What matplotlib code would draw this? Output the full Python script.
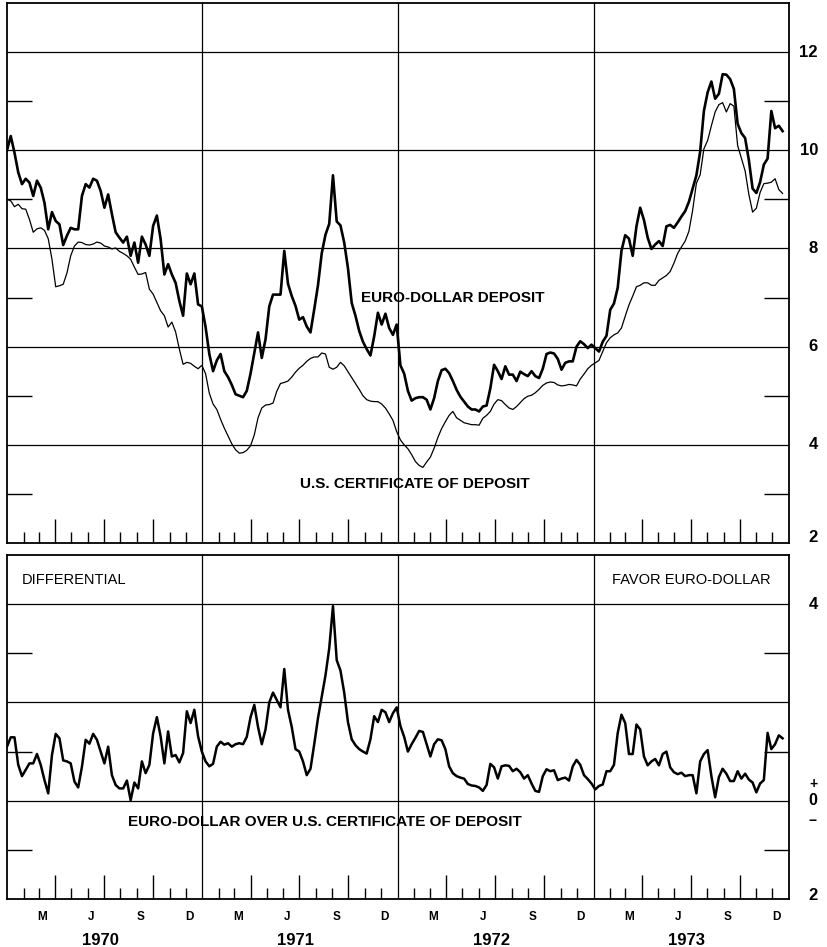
import numpy as np
import pandas as pd
import matplotlib
matplotlib.use('Agg')
import matplotlib.pyplot as plt
import matplotlib.dates as mdates

plt.rcParams['font.family'] = ['Liberation Sans', 'DejaVu Sans']

# Weekly observations starting 1 Jan 1970
euro_dollar = [
    10.0, 10.29, 9.95, 9.55, 9.31, 9.42, 9.34, 9.07, 9.38, 9.24, 8.93, 8.39, 8.74, 8.56, 8.49, 8.07,
    8.26, 8.42, 8.39, 8.39, 9.07, 9.31, 9.24, 9.42, 9.38, 9.17, 8.83, 9.10, 8.70, 8.33, 8.22, 8.12,
    8.24, 7.85, 8.12, 7.71, 8.24, 8.08, 7.85, 8.46, 8.67, 8.19, 7.47, 7.68, 7.47, 7.30, 6.93, 6.63,
    7.49, 7.27, 7.49, 6.86, 6.82,
    6.4, 5.85, 5.5, 5.72, 5.85, 5.5, 5.38, 5.22, 5.03, 5.0, 4.97, 5.1, 5.45, 5.87, 6.29, 5.77, 6.15,
    6.82, 7.06, 7.06, 7.06, 7.95, 7.28, 7.03, 6.83, 6.55, 6.6, 6.41, 6.29, 6.76, 7.25, 7.9, 8.28, 8.5,
    9.49, 8.55, 8.47, 8.12, 7.6, 6.89, 6.63, 6.32, 6.1, 5.95, 5.82, 6.21, 6.69, 6.45, 6.67, 6.38,
    6.24, 6.45,
    5.62, 5.45, 5.1, 4.9, 4.95, 4.97, 4.97, 4.92, 4.72, 4.95, 5.3, 5.52, 5.55, 5.46, 5.3, 5.12, 4.98,
    4.88, 4.78, 4.72, 4.72, 4.68, 4.78, 4.8, 5.15, 5.63, 5.5, 5.34, 5.6, 5.43, 5.43, 5.3, 5.49, 5.44,
    5.4, 5.5, 5.4, 5.36, 5.55, 5.85, 5.88, 5.86, 5.75, 5.53, 5.67, 5.70, 5.70, 6.0, 6.11, 6.05, 5.97,
    6.04, 5.97, 5.9,
    6.1, 6.22, 6.75, 6.88, 7.2, 7.95, 8.27, 8.2, 7.85, 8.45, 8.83, 8.58, 8.22, 7.99, 8.08, 8.15, 8.05,
    8.45, 8.48, 8.42, 8.53, 8.65, 8.76, 8.95, 9.22, 9.49, 9.97, 10.8, 11.18, 11.4, 11.05, 11.15, 11.55,
    11.54, 11.45, 11.25, 10.54, 10.35, 10.25, 9.8, 9.22, 9.13, 9.35, 9.71, 9.83, 10.8, 10.45, 10.5, 10.39,
]

us_cd = [
    9.0, 8.97, 8.85, 8.9, 8.81, 8.8, 8.59, 8.33, 8.4, 8.42, 8.37, 8.2, 7.78, 7.22, 7.24, 7.27, 7.5,
    7.85, 8.05, 8.13, 8.12, 8.08, 8.07, 8.09, 8.13, 8.11, 8.05, 8.03, 7.99, 8.01, 7.94, 7.9, 7.85,
    7.78, 7.62, 7.47, 7.48, 7.51, 7.17, 7.07, 6.9, 6.73, 6.63, 6.4, 6.5, 6.3, 5.95, 5.64, 5.68, 5.66,
    5.6, 5.55, 5.62, 5.45, 5.05,
    4.83, 4.72, 4.52, 4.34, 4.18, 4.02, 3.9, 3.83, 3.84, 3.89, 3.98, 4.2, 4.55, 4.75, 4.81, 4.82, 4.85,
    5.09, 5.25, 5.27, 5.3, 5.38, 5.48, 5.56, 5.62, 5.7, 5.76, 5.79, 5.79, 5.87, 5.85, 5.58, 5.54, 5.58,
    5.68, 5.61, 5.49, 5.37, 5.25, 5.13, 5.0, 4.92, 4.89, 4.88, 4.88, 4.83, 4.75, 4.63, 4.5, 4.27, 4.1,
    4.0,
    3.92, 3.8, 3.66, 3.58, 3.54, 3.65, 3.75, 3.93, 4.15, 4.33, 4.47, 4.6, 4.68, 4.55, 4.5, 4.45, 4.43,
    4.41, 4.41, 4.4, 4.54, 4.6, 4.68, 4.83, 4.92, 4.9, 4.82, 4.75, 4.72, 4.78, 4.86, 4.94, 4.99, 5.01,
    5.06, 5.13, 5.21, 5.26, 5.28, 5.27, 5.22, 5.2, 5.21, 5.23, 5.22, 5.2, 5.34, 5.44, 5.55, 5.62, 5.67,
    5.72,
    5.9, 6.08, 6.18, 6.24, 6.28, 6.38, 6.62, 6.85, 7.03, 7.22, 7.25, 7.3, 7.3, 7.25, 7.25, 7.35, 7.4,
    7.45, 7.53, 7.7, 7.9, 8.03, 8.15, 8.35, 8.78, 9.33, 9.5, 10.03, 10.2, 10.5, 10.78, 10.93, 10.97,
    10.78, 10.95, 10.9, 10.1, 9.84, 9.58, 9.1, 8.74, 8.82, 9.14, 9.32, 9.33, 9.35, 9.42, 9.2, 9.12,
]

differential = [
    1.10, 1.29, 1.29, 0.73, 0.50, 0.63, 0.76, 0.76, 0.95, 0.73, 0.42, 0.15, 0.93, 1.36, 1.27, 0.82,
    0.80, 0.76, 0.39, 0.27, 0.69, 1.24, 1.16, 1.36, 1.24, 1.0, 0.76, 1.10, 0.52, 0.32, 0.25, 0.25,
    0.41, 0.01, 0.37, 0.25, 0.80, 0.56, 0.73, 1.37, 1.70, 1.31, 0.76, 1.41, 0.90, 0.93, 0.78, 0.97,
    1.82, 1.58, 1.85, 1.31,
    1.0, 0.8, 0.7, 0.75, 1.1, 1.2, 1.14, 1.17, 1.1, 1.15,
    1.17, 1.15, 1.3, 1.7, 1.95, 1.5, 1.15, 1.45, 2.0, 2.2,
    2.05, 1.9, 2.68, 1.85, 1.5, 1.05, 1.0, 0.8, 0.52, 0.65,
    1.15, 1.68, 2.12, 2.55, 3.1, 3.96, 2.86, 2.65, 2.2, 1.6,
    1.25, 1.13, 1.05, 1.0, 0.96, 1.25, 1.72, 1.6, 1.85, 1.8,
    1.6, 1.78, 1.9, 1.52, 1.3, 1.0, 1.15, 1.28, 1.42, 1.4,
    1.15, 0.9, 1.15, 1.25, 1.23, 1.05, 0.7, 0.56, 0.5, 0.47,
    0.45, 0.34, 0.31, 0.3, 0.27, 0.2, 0.32, 0.75, 0.68, 0.45,
    0.7, 0.72, 0.71, 0.6, 0.65, 0.58, 0.45, 0.52, 0.35, 0.2,
    0.18, 0.5, 0.64, 0.6, 0.62, 0.42, 0.45, 0.47, 0.41, 0.7,
    0.83, 0.73, 0.52, 0.44, 0.35, 0.23, 0.3, 0.33, 0.6, 0.6,
    0.73, 1.38, 1.75, 1.58, 0.95, 0.95, 1.55, 1.45, 0.9, 0.72,
    0.8, 0.85, 0.72, 0.95, 1.0, 0.68, 0.58, 0.54, 0.57, 0.5,
    0.52, 0.52, 0.15, 0.8, 0.95, 1.03, 0.5, 0.07, 0.48, 0.65,
    0.55, 0.4, 0.4, 0.6, 0.45, 0.55, 0.43, 0.37, 0.17, 0.35,
    0.42, 1.38, 1.05, 1.15, 1.33, 1.27,
]

top_ticks = [2, 4, 6, 8, 10, 12]
top_labels = ['2', '4', '6', '8', '10', '12']
bottom_ticks = [-2, 4]
bottom_labels = ['2', '4']
month_letters = {3: 'M', 6: 'J', 9: 'S', 12: 'D'}
years = [1970, 1971, 1972, 1973]

START = pd.Timestamp('1970-01-01')


def weekly_dates(n):
    return START + pd.to_timedelta(7 * np.arange(n), unit='D')


W, H = 828, 947
fig = plt.figure(figsize=(W / 100, H / 100), dpi=100)
ax1 = fig.add_axes([7 / W, 1 - 543 / H, 782 / W, 540 / H])
ax2 = fig.add_axes([7 / W, 1 - 899 / H, 782 / W, 344 / H])

RIGHT_X = 1 + (818 - 789) / 782


def style(ax, ylim, grid_vals, minor_vals):
    ax.set_xlim(pd.Timestamp('1970-01-01'), pd.Timestamp('1974-01-01'))
    ax.set_ylim(*ylim)
    for y in grid_vals:
        ax.axhline(y, color='black', lw=0.9, zorder=1)
    for yr in years[1:]:
        ax.axvline(pd.Timestamp(f'{yr}-01-01'), color='black', lw=0.9, zorder=1)
    ax.set_yticks([])
    ax.set_yticks(minor_vals, minor=True)
    ax.tick_params(axis='y', which='minor', direction='in', length=18, width=1,
                   left=True, right=True, labelleft=False)
    ax.xaxis.set_major_locator(mdates.MonthLocator(bymonth=[4, 7, 10]))
    ax.xaxis.set_minor_locator(mdates.MonthLocator(bymonth=[2, 3, 5, 6, 8, 9, 11, 12]))
    ax.tick_params(axis='x', which='major', direction='in', length=17, width=1,
                   labelbottom=False, top=False)
    ax.tick_params(axis='x', which='minor', direction='in', length=8, width=1,
                   labelbottom=False, top=False)
    for s in ax.spines.values():
        s.set_linewidth(1.3)


style(ax1, (2, 13), [4, 6, 8, 10, 12], [3, 5, 7, 9, 11])
style(ax2, (-2, 5), [0, 2, 4], [-1, 1, 3])

# Top panel series
ax1.plot(weekly_dates(len(us_cd)), us_cd, color='black', lw=0.9, zorder=3)
ax1.plot(weekly_dates(len(euro_dollar)), euro_dollar, color='black', lw=1.9, zorder=4)

# Bottom panel series
ax2.plot(weekly_dates(len(differential)), differential, color='black', lw=1.8, zorder=4)

# Right-side labels
ty1 = ax1.get_yaxis_transform()
for v, lab in zip(top_ticks, top_labels):
    yy = v + 0.12 if v == 2 else v
    ax1.text(RIGHT_X, yy, lab, transform=ty1, ha='right', va='center',
             fontsize=12, fontweight='bold', clip_on=False)
ty2 = ax2.get_yaxis_transform()
for v, lab in zip(bottom_ticks, bottom_labels):
    yy = v + 0.08 if v == -2 else v
    ax2.text(RIGHT_X, yy, lab, transform=ty2, ha='right', va='center',
             fontsize=12, fontweight='bold', clip_on=False)
ax2.text(RIGHT_X - 0.001, 0.0, '0', transform=ty2, ha='right', va='center',
         fontsize=11.5, fontweight='bold', clip_on=False)
ax2.text(RIGHT_X - 0.001, 0.34, '+', transform=ty2, ha='right', va='center',
         fontsize=10, fontweight='bold', clip_on=False)
ax2.text(RIGHT_X - 0.002, -0.27, '\u2212', transform=ty2, ha='right', va='top',
         fontsize=10, fontweight='bold', clip_on=False)

# Month letters and years below bottom panel
tx2 = ax2.get_xaxis_transform()
for yr in years:
    for m, letter in month_letters.items():
        ax2.text(pd.Timestamp(f'{yr}-{m:02d}-08'), (899 - 917) / 344, letter,
                 transform=tx2, ha='center', va='center', fontsize=8.5,
                 fontweight='bold', clip_on=False)
    ax2.text(pd.Timestamp(f'{yr}-06-24'), (899 - 940) / 344, str(yr),
             transform=tx2, ha='center', va='center', fontsize=12,
             fontweight='bold', clip_on=False)

# Annotations
ax1.text((361 - 7) / 782, (543 - 298) / 540, 'EURO-DOLLAR DEPOSIT', transform=ax1.transAxes,
         ha='left', va='center', fontsize=11, fontweight='bold')
ax1.text((300 - 7) / 782, (543 - 484) / 540, 'U.S. CERTIFICATE OF DEPOSIT', transform=ax1.transAxes,
         ha='left', va='center', fontsize=11, fontweight='bold')
ax2.text((22 - 7) / 782, (899 - 580) / 344, 'DIFFERENTIAL', transform=ax2.transAxes,
         ha='left', va='center', fontsize=10.5)
ax2.text((771 - 7) / 782, (899 - 580) / 344, 'FAVOR EURO-DOLLAR', transform=ax2.transAxes,
         ha='right', va='center', fontsize=10.5)
ax2.text((128 - 7) / 782, (899 - 822) / 344, 'EURO-DOLLAR OVER U.S. CERTIFICATE OF DEPOSIT',
         transform=ax2.transAxes, ha='left', va='center', fontsize=11, fontweight='bold')

fig.savefig('out.png', dpi=100)
